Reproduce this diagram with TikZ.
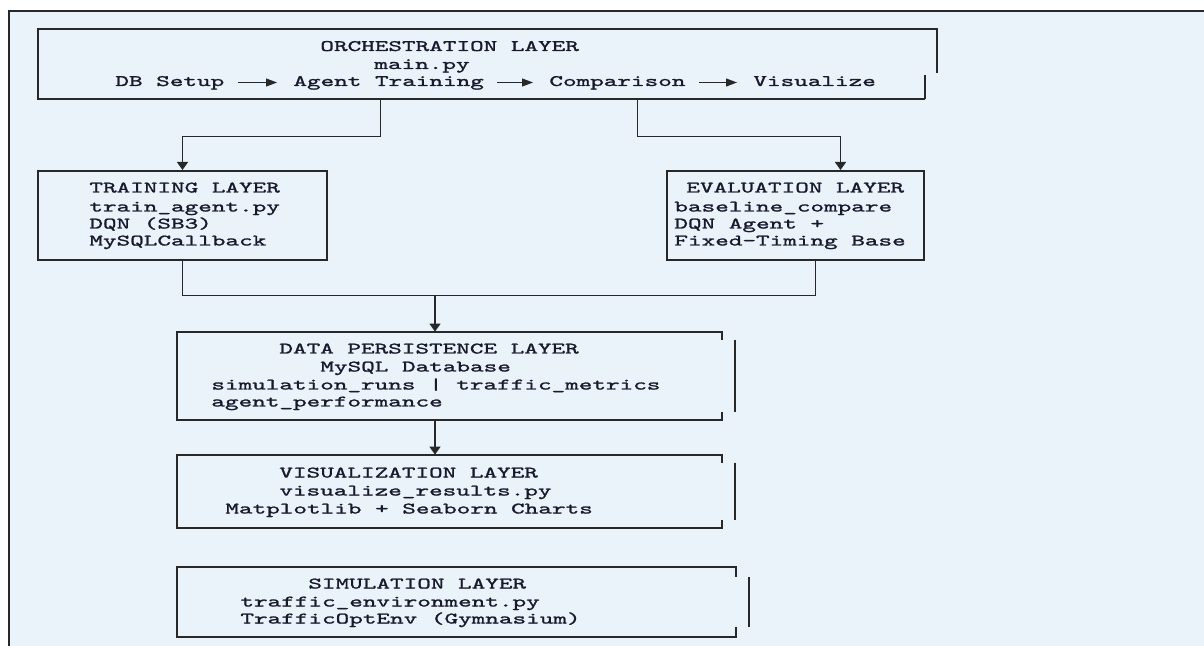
\documentclass[tikz,border=0pt]{standalone}
\usepackage{fontspec}
\usetikzlibrary{arrows.meta, calc}
\newfontfamily\codefont[FakeStretch=1.62, FakeBold=1.4]{lmmono10-regular.otf}
\definecolor{panel}{RGB}{234,242,250}
\definecolor{ink}{RGB}{25,25,45}
\definecolor{rule}{RGB}{40,40,40}
\tikzstyle{layerbox} = [rectangle, inner sep=0pt, minimum width=2cm, minimum height=1cm]
\tikzstyle{txt} = [anchor=base west, inner sep=0pt, text height=5pt, text depth=1.5pt,
    text=ink, font=\codefont\fontsize{8}{9}\selectfont]
\tikzstyle{outline} = [draw=rule, line width=1pt]
\tikzstyle{arrow} = [rule, line width=0.75pt, -{Triangle[length=4pt, width=5.5pt]}]
\tikzstyle{flow} = [rule, line width=0.6pt, -{Triangle[length=5.5pt, width=4pt]},
    shorten <=6.5pt, shorten >=8pt]

\begin{document}
\begin{tikzpicture}[x=0.5pt, y=-0.5pt]
        \useasboundingbox (0,0) rectangle (1204,646);
        \fill[white] (0,0) rectangle (1204,646);
        \fill[panel] (9,11) rectangle (1204,646);
        \draw[rule, line width=0.8pt] (1204,11) -- (9,11) -- (9,646);

        % layer boxes
        \node (orch) [layerbox, minimum width=443.5pt, minimum height=35pt] at (481.5,64) {};
        \node (train) [layerbox, outline, minimum width=144.5pt, minimum height=44.5pt]
            at (182.5,215.5) {};
        \node (eval) [layerbox, outline, minimum width=128.5pt, minimum height=44.5pt]
            at (795.5,215.5) {};
        \node (data) [layerbox, minimum width=272.5pt, minimum height=44pt] at (449.5,376) {};
        \node (vis) [layerbox, minimum width=272.5pt, minimum height=36.5pt] at (449.5,491.5) {};
        \node (sim) [layerbox, minimum width=279.5pt, minimum height=35pt] at (456.5,602) {};

        \draw[outline] (orch.south east) -- ++(0,-24);
        \draw[outline] (orch.south east) -- (orch.south west) -- (orch.north west)
            -- ++(899,0) -- ++(0,44);
        \foreach \b/\s in {data/8, vis/8, sim/10} {
            \draw[outline] ($(\b.south east)+(0,-\s)$) -- (\b.south east) -- (\b.south west)
                -- (\b.north west) -- (\b.north east) -- ++(0,\s);
            \draw[outline] ($(\b.north east)+(13,\s)$) -- ($(\b.south east)+(13,-\s)$);
        }

        % orchestration
        \node (orch-title) [txt] at (320,51) {ORCHESTRATION LAYER};
        \node (orch-file) [txt] at (374,69) {main.py};
        \node (db) [txt] at (115,86) {DB Setup};
        \node (agent) [txt] at (293,86) {Agent Training};
        \node (cmp) [txt] at (549,86) {Comparison};
        \node (show) [txt] at (753,86) {Visualize};
        \draw[flow] (db) -- (agent);
        \draw[flow] (agent) -- (cmp);
        \draw[flow] (cmp) -- (show);

        % training + evaluation
        \node (train-title) [txt] at (89,192.5) {TRAINING LAYER};
        \node (train-file) [txt] at (89,211.5) {train\_agent.py};
        \node (train-algo) [txt] at (89,228.5) {DQN (SB3)};
        \node (train-cb) [txt] at (89,245.5) {MySQLCallback};
        \node (eval-title) [txt] at (686,192.5) {EVALUATION LAYER};
        \node (eval-file) [txt] at (674,211.5) {baseline\_compare};
        \node (eval-agent) [txt] at (674,228.5) {DQN Agent +};
        \node (eval-base) [txt] at (674,245.5) {Fixed-Timing Base};

        % data persistence
        \node (data-title) [txt] at (279,353.5) {DATA PERSISTENCE LAYER};
        \node (data-db) [txt] at (320,371.5) {MySQL Database};
        \node (data-t1) [txt] at (211,389.5) {simulation\_runs | traffic\_metrics};
        \node (data-t2) [txt] at (211,406.5) {agent\_performance};

        % visualization
        \node (vis-title) [txt] at (279,477.5) {VISUALIZATION LAYER};
        \node (vis-file) [txt] at (279,495.5) {visualize\_results.py};
        \node (vis-libs) [txt] at (225,513.5) {Matplotlib + Seaborn Charts};

        % simulation
        \node (sim-title) [txt] at (308,588.5) {SIMULATION LAYER};
        \node (sim-file) [txt] at (240,606.5) {traffic\_environment.py};
        \node (sim-env) [txt] at (240,623.5) {TrafficOptEnv (Gymnasium)};

        % connectors
        \draw[arrow] ($(orch.south west)+(343,0)$) -- ++(0,37) -| (train.north);
        \draw[arrow] ($(orch.south west)+(600,0)$) -- ++(0,37) -| ($(eval.north)+(45,0)$);
        \coordinate (merge) at ($(data.north)+(-14.5,-36)$);
        \draw[rule, line width=0.75pt] (train.south) |- (merge);
        \draw[rule, line width=0.75pt] ($(eval.south)+(20,0)$) |- (merge);
        \draw[arrow] (merge) -- (merge |- data.north);
        \draw[arrow] (data.south -| merge) -- (vis.north -| merge);
    \end{tikzpicture}
\end{document}
